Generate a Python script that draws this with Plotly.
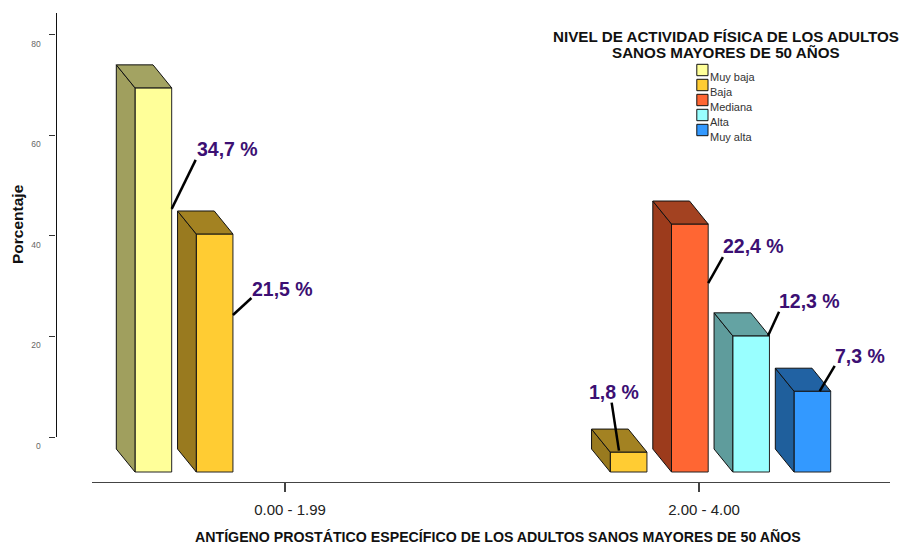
import plotly.graph_objects as go

# ---- data ----
GROUPS = ["0.00 - 1.99", "2.00 - 4.00"]
SERIES = ["Muy baja", "Baja", "Mediana", "Alta", "Muy alta"]
MUY_BAJA = [34.7, None]
BAJA = [21.5, 1.8]
MEDIANA = [None, 22.4]
ALTA = [None, 12.3]
MUY_ALTA = [None, 7.3]
VALUES = [MUY_BAJA, BAJA, MEDIANA, ALTA, MUY_ALTA]
Y_TICKS = [0, 20, 40, 60, 80]

# ---- style ----
FRONT = ["#FFFF99", "#FFCC33", "#FF6633", "#99FFFF", "#3399FF"]
TOP = ["#A3A362", "#A38222", "#A34221", "#64A3A3", "#2162A3"]
SIDE = ["#A09F5E", "#997A1F", "#9C3B1C", "#5F9C9C", "#1F5F9C"]
TEXT_PURPLE = "#3C0F73"
FONT = "Liberation Sans, Arial, sans-serif"
W, H = 900, 544

# ---- layout geometry in pixels ----
X_L, X_R = 92, 890         # x axis extent
Y_BOT, Y_TOP = 482, 13     # value scale extent
Y_AXIS_BOT = 437           # visible axis bottom
TICK0, TICK_STEP = 285, 414
SLOT0, SLOT_STEP, BAR_W = -150, 61.25, 36.7
DEPTH_X, DEPTH_Y = -18.7, 23
BASE_PX, PX_PER_PCT = 472, 11.07
AX_PX_PER_UNIT = 5.03
AX_ZERO_PX = 437


def x_u(px):
    return (px - TICK0) / TICK_STEP


def v_u(px):
    return (BASE_PX - px) / PX_PER_PCT


dx = DEPTH_X / TICK_STEP
dv = DEPTH_Y / PX_PER_PCT
bw = BAR_W / TICK_STEP

# (group, series): leader head offset, leader tail offset, label centre offset
# from the top-right corner of the front face, pixels (dx, dy downward)
LABELS = {
    (0, 0): ((0, 121), (24, 72), (55.5, 61)),
    (0, 1): ((0, 81), (18.5, 64), (49.5, 55.5)),
    (1, 1): ((-28, -1.5), (-35.3, -49.5), (-33.3, -60)),
    (1, 2): ((0, 59), (14.7, 33), (45.5, 22)),
    (1, 3): ((-1.4, 0), (9.6, -24), (40.3, -34.7)),
    (1, 4): ((-11, 0), (4, -25.3), (29.5, -35.3)),
}

fig = go.Figure()

# front faces as bars
for s, name in enumerate(SERIES):
    off = (SLOT0 + s * SLOT_STEP) / TICK_STEP
    fig.add_trace(go.Bar(
        x=list(range(len(GROUPS))), y=VALUES[s], name=name, yaxis="y2",
        width=bw, offset=off, base=0,
        marker=dict(color=FRONT[s], line=dict(color="#222222", width=1)),
        showlegend=False,
    ))

# side and top faces
for s, name in enumerate(SERIES):
    off = (SLOT0 + s * SLOT_STEP) / TICK_STEP
    for g, v in enumerate(VALUES[s]):
        if v is None:
            continue
        x0 = g + off
        x1 = x0 + bw
        fig.add_trace(go.Scatter(
            x=[x0, x0, x0 + dx, x0 + dx, x0], y=[0, v, v + dv, dv, 0],
            yaxis="y2", mode="lines", fill="toself", fillcolor=SIDE[s],
            line=dict(color="#111111", width=1), hoverinfo="skip", showlegend=False,
        ))
        fig.add_trace(go.Scatter(
            x=[x0, x1, x1 + dx, x0 + dx, x0], y=[v, v, v + dv, v + dv, v],
            yaxis="y2", mode="lines", fill="toself", fillcolor=TOP[s],
            line=dict(color="#111111", width=1), hoverinfo="skip", showlegend=False,
        ))

# leader lines and value labels
annotations = []
for (g, s), (head, tail, centre) in LABELS.items():
    v = VALUES[s][g]
    cx = TICK0 + g * TICK_STEP + SLOT0 + s * SLOT_STEP + BAR_W
    cy = BASE_PX - v * PX_PER_PCT
    fig.add_trace(go.Scatter(
        x=[x_u(cx + head[0]), x_u(cx + tail[0])],
        y=[v_u(cy + head[1]), v_u(cy + tail[1])],
        yaxis="y2", mode="lines", line=dict(color="black", width=2.5),
        hoverinfo="skip", showlegend=False,
    ))
    annotations.append(dict(
        x=x_u(cx + centre[0]), y=v_u(cy + centre[1]), xref="x", yref="y2",
        text=f"<b>{v:.1f} %</b>".replace(".", ","), showarrow=False,
        xanchor="center", yanchor="middle",
        font=dict(family=FONT, size=19.5, color=TEXT_PURPLE),
    ))

# keeps the visible value axis registered
fig.add_trace(go.Scatter(x=[None], y=[None], yaxis="y", mode="lines",
                         showlegend=False, hoverinfo="skip"))

# titles
annotations.append(dict(
    x=498 / W, y=1 - 536 / H, xref="paper", yref="paper", showarrow=False,
    text="<b>ANTÍGENO PROSTÁTICO ESPECÍFICO DE LOS ADULTOS SANOS MAYORES DE 50 AÑOS</b>",
    font=dict(family=FONT, size=14.2, color="#111111"), xanchor="center", yanchor="middle",
))
annotations.append(dict(
    x=17 / W, y=1 - 224 / H, xref="paper", yref="paper", showarrow=False, textangle=-90,
    text="<b>Porcentaje</b>", font=dict(family=FONT, size=15.5, color="#111111"),
    xanchor="center", yanchor="middle",
))
annotations.append(dict(
    x=726 / W, y=1 - 52 / H, xref="paper", yref="paper", showarrow=False,
    text="<b>SANOS MAYORES DE 50 AÑOS</b>",
    font=dict(family=FONT, size=15.2, color="#111111"), xanchor="center", yanchor="middle",
))

# legend
shapes = []
for s, name in enumerate(SERIES):
    top = 64.3 + 15 * s
    shapes.append(dict(
        type="rect", xref="paper", yref="paper",
        x0=696.8 / W, x1=708 / W, y0=1 - (top + 11.4) / H, y1=1 - top / H,
        fillcolor=FRONT[s], line=dict(color="#111111", width=1),
    ))
    annotations.append(dict(
        x=708 / W, y=1 - (top + 12.7) / H, xref="paper", yref="paper",
        text=name, showarrow=False, xanchor="left", yanchor="middle",
        font=dict(family=FONT, size=11, color="#333333"),
    ))

fig.update_layout(
    width=W, height=H, autosize=False,
    margin=dict(l=0, r=0, t=0, b=0),
    paper_bgcolor="white", plot_bgcolor="white",
    showlegend=False, barmode="overlay",
    title=dict(
        text="<b>NIVEL DE ACTIVIDAD FÍSICA DE LOS ADULTOS</b>",
        x=726 / W, xanchor="center", y=1 - 36.5 / H, yanchor="middle", automargin=False,
        font=dict(family=FONT, size=15.2, color="#111111"),
    ),
    xaxis=dict(
        domain=[X_L / W, X_R / W], range=[x_u(X_L), x_u(X_R)], automargin=False,
        tickmode="array", tickvals=list(range(len(GROUPS))), ticktext=GROUPS,
        anchor="y2", showgrid=False, zeroline=False, showline=True,
        linecolor="#444444", linewidth=1.2,
        ticks="outside", ticklen=9, tickwidth=1.5, tickcolor="#444444",
        ticklabelshift=5, ticklabelstandoff=5,
        tickfont=dict(family=FONT, size=15, color="#222222"),
    ),
    yaxis=dict(
        domain=[1 - Y_AXIS_BOT / H, 1 - Y_TOP / H], automargin=False,
        range=[(AX_ZERO_PX - Y_AXIS_BOT) / AX_PX_PER_UNIT, (AX_ZERO_PX - Y_TOP) / AX_PX_PER_UNIT],
        anchor="free", position=55.5 / W, side="left",
        tickmode="array", tickvals=Y_TICKS,
        showgrid=False, zeroline=False, showline=True,
        linecolor="#111111", linewidth=1.2,
        ticks="outside", ticklen=6, tickwidth=1.2, tickcolor="#333333",
        ticklabelshift=9, ticklabelstandoff=7,
        tickfont=dict(family=FONT, size=8.5, color="#666666"),
    ),
    yaxis2=dict(
        domain=[1 - Y_BOT / H, 1 - Y_TOP / H], automargin=False,
        range=[v_u(Y_BOT), v_u(Y_TOP)],
        anchor="x", visible=False, showgrid=False, zeroline=False,
    ),
    annotations=annotations,
    shapes=shapes,
)

fig.write_html("out.html", config={"displayModeBar": False},
               post_script="document.body.style.margin='0';")
